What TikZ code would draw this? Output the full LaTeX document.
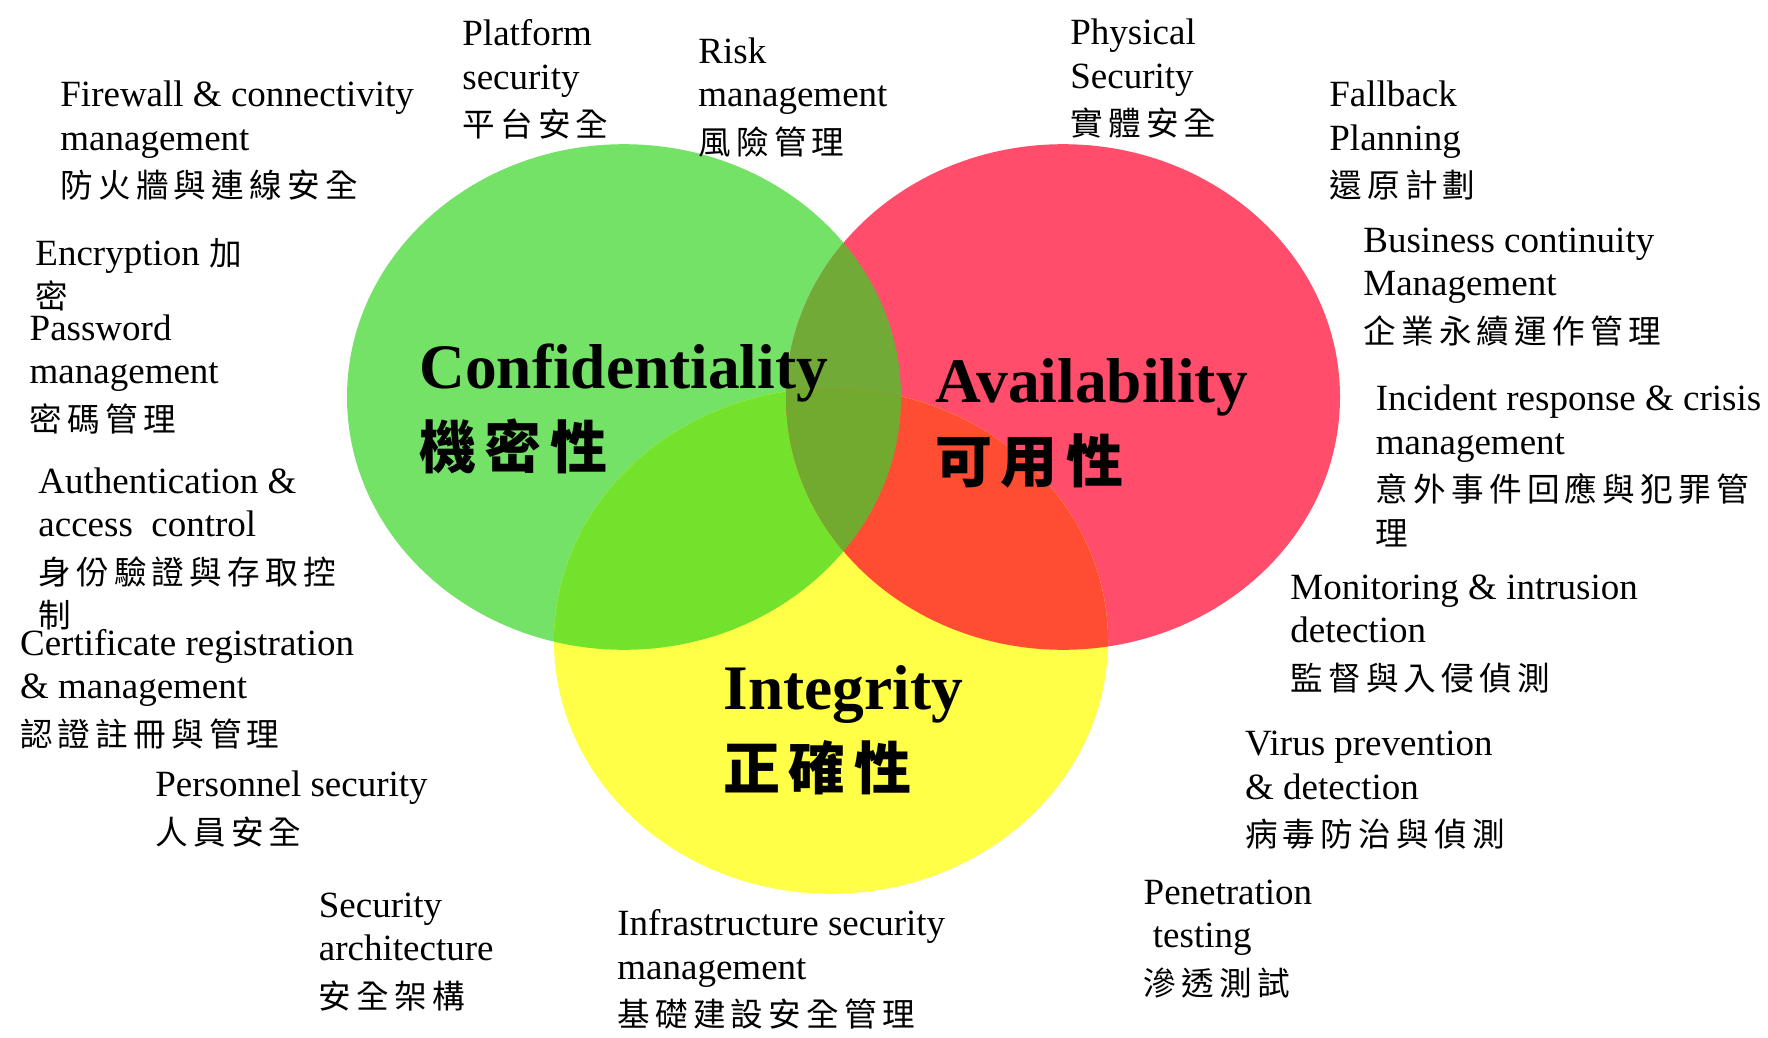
\documentclass[tikz,border=0pt]{standalone}
\usepackage{fontspec}
\setmainfont{Liberation Serif}
\newfontfamily\cjk[LetterSpace=16]{Noto Sans CJK TC}
\newfontfamily\cjkb[LetterSpace=14.7]{Noto Sans CJK TC}
\definecolor{cG}{HTML}{73E266}
\definecolor{cR}{HTML}{FF4D6B}
\definecolor{cY}{HTML}{FFFF47}
\definecolor{cGR}{HTML}{72AA38}
\definecolor{cGY}{HTML}{73E22C}
\definecolor{cRY}{HTML}{FF4D33}
\definecolor{cGRY}{HTML}{72AA2F}
\newcommand\cjks{\cjk\fontsize{16.3}{21.75}\selectfont}
\newcommand\cjkt{\cjkb\bfseries\fontsize{28.5}{40}\selectfont}
\newcommand\cjkline[1]{\vskip2pt\hbox{\cjks #1}}
\tikzset{
  lbl/.style={anchor=base west, inner sep=0pt, font=\fontsize{18.5}{21.75}\selectfont},
  ttl/.style={anchor=base west, inner sep=0pt, font=\fontsize{31.7}{40}\selectfont\bfseries},
  ell/.style={x radius=138.5pt, y radius=126.4pt}
}
\begin{document}
\begin{tikzpicture}[x=0.5pt, y=-0.5pt]
\useasboundingbox (0,0) rectangle (1768,1038);
\coordinate (G) at (624,397);
\coordinate (R) at (1063,397);
\coordinate (Y) at (831,641);
% base circles
\fill[cG] (G) ellipse [ell];
\fill[cR] (R) ellipse [ell];
\fill[cY] (Y) ellipse [ell];
% pairwise overlaps
\begin{scope}\clip (G) ellipse [ell]; \fill[cGR] (R) ellipse [ell];\end{scope}
\begin{scope}\clip (G) ellipse [ell]; \fill[cGY] (Y) ellipse [ell];\end{scope}
\begin{scope}\clip (R) ellipse [ell]; \fill[cRY] (Y) ellipse [ell];\end{scope}
\begin{scope}\clip (G) ellipse [ell]; \clip (R) ellipse [ell]; \fill[cGRY] (Y) ellipse [ell];\end{scope}
% titles
\node[ttl] (conf) at (419,388.7) {\vtop{\hbox{Confidentiality}\hbox{\cjkt 機密性}}};
\node[ttl] (avail) at (935,402) {\vtop{\hbox{Availability}\hbox{\cjkt 可用性}}};
\node[ttl] (integ) at (723,709.6) {\vtop{\hbox{Integrity}\hbox{\cjkt 正確性}}};
% labels
\node[lbl] (firewall) at (60,106.7) {\vtop{\hbox{Firewall \& connectivity}\hbox{management}\cjkline{防火牆與連線安全}}};
\node[lbl] (platform) at (462,45.7) {\vtop{\hbox{Platform}\hbox{security}\cjkline{平台安全}}};
\node[lbl] (risk) at (698,63.3) {\vtop{\hbox{Risk}\hbox{management}\cjkline{風險管理}}};
\node[lbl] (physical) at (1070,45) {\vtop{\hbox{Physical}\hbox{Security}\cjkline{實體安全}}};
\node[lbl] (fallback) at (1329,106.7) {\vtop{\hbox{Fallback}\hbox{Planning}\cjkline{還原計劃}}};
\node[lbl] (business) at (1363,252.3) {\vtop{\hbox{Business continuity}\hbox{Management}\cjkline{企業永續運作管理}}};
\node[lbl] (incident) at (1375.5,410.7) {\vtop{\hbox{Incident response \& crisis}\hbox{management}\cjkline{意外事件回應與犯罪管}\hbox{\cjks 理}}};
\node[lbl] (monitor) at (1290,599) {\vtop{\hbox{Monitoring \& intrusion}\hbox{detection}\cjkline{監督與入侵偵測}}};
\node[lbl] (virus) at (1244.8,755.7) {\vtop{\hbox{Virus prevention}\hbox{\& detection}\cjkline{病毒防治與偵測}}};
\node[lbl] (pen) at (1143.3,904) {\vtop{\hbox{Penetration}\hbox{\ testing}\cjkline{滲透測試}}};
\node[lbl] (infra) at (617,935.7) {\vtop{\hbox{Infrastructure security}\hbox{management}\cjkline{基礎建設安全管理}}};
\node[lbl] (secarch) at (318.5,917) {\vtop{\hbox{Security}\hbox{architecture}\cjkline{安全架構}}};
\node[lbl] (personnel) at (155,796.7) {\vtop{\hbox{Personnel security}\cjkline{人員安全}}};
\node[lbl] (cert) at (19.7,655) {\vtop{\hbox{Certificate registration}\hbox{\& management}\cjkline{認證註冊與管理}}};
\node[lbl] (auth) at (38,493) {\vtop{\hbox{Authentication \&}\hbox{access\ \ control}\cjkline{身份驗證與存取控}\hbox{\cjks 制}}};
\node[lbl] (pass) at (29.3,340) {\vtop{\hbox{Password}\hbox{management}\cjkline{密碼管理}}};
\node[lbl] (encr) at (35,265) {\vtop{\hbox{Encryption {\cjks 加}}\hbox{\cjks 密}}};
\end{tikzpicture}
\end{document}
